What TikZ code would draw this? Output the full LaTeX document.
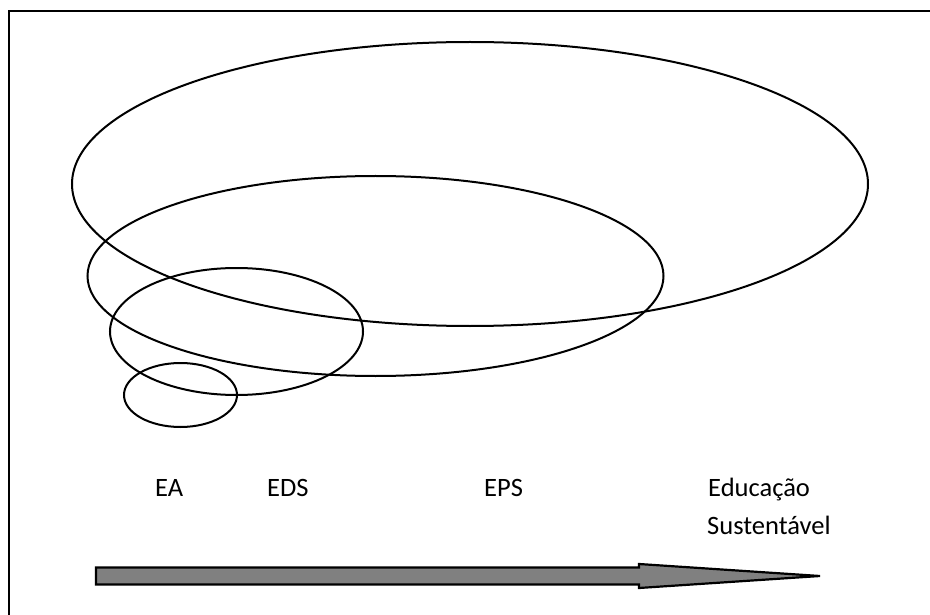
\documentclass[tikz,border=0pt]{standalone}
\usepackage{fontspec}
\setmainfont{Carlito}
\begin{document}
\begin{tikzpicture}[x=1pt,y=-1pt,
  ring/.style={draw=black,line width=2pt},
  label/.style={anchor=base west,inner sep=0pt,font=\fontsize{26.5}{38}\selectfont},
  bigarrow/.style={draw=black,line width=2.2pt,fill=black!50,line join=miter}]
  \useasboundingbox (0,0) rectangle (930,615);
  % frame, open at the right and bottom
  \draw[line width=2pt] (9,625) -- (9,11) -- (940,11);
  % nested spheres of education
  \draw[ring] (470,184) ellipse [x radius=398pt, y radius=142pt];
  \draw[ring] (375.5,276) ellipse [x radius=288pt, y radius=100pt];
  \draw[ring] (236.5,331.5) ellipse [x radius=126.5pt, y radius=63.5pt];
  \draw[ring] (180.5,395) ellipse [x radius=56.5pt, y radius=32pt];
  % labels along the timeline
  \node[label] (ea)  at (155,496) {EA};
  \node[label] (eds) at (267,496) {EDS};
  \node[label] (eps) at (484,496) {EPS};
  \node[label] (edu) at (708,496) {Educação};
  \node[label] (sus) at (707,534) {Sustentável};
  % progression arrow
  \draw[bigarrow] (96,567.5) -- (639,567.5) -- (639,564) -- (820,576)
     -- (639,588) -- (639,584.5) -- (96,584.5) -- cycle;
\end{tikzpicture}
\end{document}
